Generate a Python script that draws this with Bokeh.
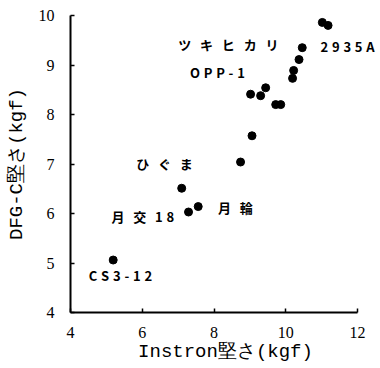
from bokeh.plotting import figure
from bokeh.models import ColumnDataSource, FixedTicker, Range1d, LabelSet
from bokeh.core.properties import value
from bokeh.embed import file_html
from bokeh.resources import INLINE

# data
instron = [5.19, 7.10, 7.29, 7.56, 8.74, 9.06, 9.02, 9.30, 9.44, 9.72, 9.86,
           10.22, 10.19, 10.37, 10.46, 11.02, 11.18]
dfgc = [5.06, 6.51, 6.03, 6.14, 7.04, 7.57, 8.41, 8.38, 8.54, 8.20, 8.20,
        8.89, 8.73, 9.11, 9.35, 9.86, 9.80]

label_text = ["ツキヒカリ", "2935A", "OPP-1", "ひぐま", "月輪", "月交18", "CS3-12"]
label_x = [7.00, 10.97, 7.33, 5.83, 8.11, 5.14, 4.51]
label_y = [9.41, 9.37, 8.85, 7.01, 6.13, 5.94, 4.75]

x_ticks = [4, 6, 8, 10, 12]
y_ticks = [4, 5, 6, 7, 8, 9, 10]

NB = "\u00a0"


def spread(s):
    out = []
    for i, ch in enumerate(s):
        out.append(ch)
        if i < len(s) - 1:
            wide = ord(ch) > 0x2E80 or ord(s[i + 1]) > 0x2E80
            out.append(NB * 3 if wide else NB + "\u200a")
    return "".join(out)


# frame extends to the right page edge so the labels are not clipped;
# the x axis line itself stops at 12 (axis bounds)
x_end = 4 + 310 * 8 / 287

p = figure(width=380, height=368, output_backend="svg", toolbar_location=None,
           x_range=Range1d(4, x_end), y_range=Range1d(4, 10),
           min_border_left=70, min_border_right=0, min_border_top=15,
           min_border_bottom=56, x_axis_location="below", y_axis_location="left")
p.outline_line_color = None
p.xgrid.visible = False
p.ygrid.visible = False
p.background_fill_color = "white"
p.border_fill_color = "white"

for ax, ticks in ((p.xaxis[0], x_ticks), (p.yaxis[0], y_ticks)):
    ax.ticker = FixedTicker(ticks=ticks)
    ax.major_tick_in = 4
    ax.major_tick_out = 0
    ax.minor_tick_in = 0
    ax.minor_tick_out = 0
    ax.axis_line_width = 2
    ax.axis_line_color = "black"
    ax.major_tick_line_color = "black"
    ax.major_tick_line_width = 1.5
    ax.major_label_text_font = "Liberation Serif"
    ax.major_label_text_font_size = "16px"
    ax.major_label_text_color = "black"
    ax.axis_label_text_font = "Liberation Mono"
    ax.axis_label_text_font_size = "19px"
    ax.axis_label_text_font_style = "normal"
    ax.axis_label_text_color = "black"

p.xaxis.bounds = (x_ticks[0], x_ticks[-1])
p.yaxis.bounds = (y_ticks[0], y_ticks[-1])
p.xaxis.axis_label = "Instron堅さ(kgf)"
p.yaxis.axis_label = "DFG-C堅さ(kgf)"
p.xaxis.major_label_standoff = 14
p.yaxis.major_label_standoff = 16
p.xaxis.axis_label_standoff = 0
p.yaxis.axis_label_standoff = 8

src = ColumnDataSource(dict(x=instron, y=dfgc))
p.scatter("x", "y", source=src, size=8, color="black")

lsrc = ColumnDataSource(dict(x=label_x, y=label_y,
                             t=[spread(s) for s in label_text]))
labels = LabelSet(x="x", y="y", text="t", source=lsrc,
                  text_font=value("Noto Sans CJK JP"), text_font_size="13px",
                  text_font_style="bold", text_align="left",
                  text_baseline="middle", text_color="black")
p.add_layout(labels)

open("out.html", "w").write(file_html(p, INLINE))
